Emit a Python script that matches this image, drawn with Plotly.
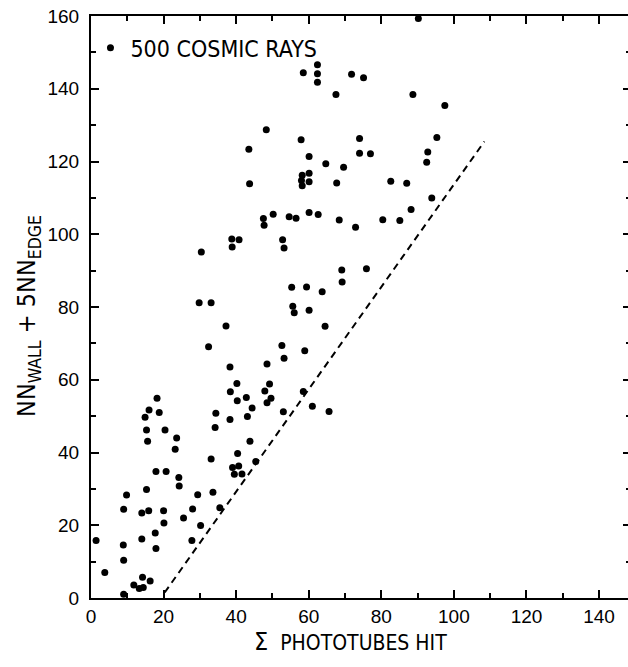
import plotly.graph_objects as go

# Scatter data: sum of phototubes hit (x) vs NN_wall + 5 NN_edge (y)
PHOTOTUBES_HIT = [
    90.2, 58.5, 62.4, 62.4, 62.4, 71.8, 75.1, 67.5, 88.7, 97.5,
    48.3, 57.9, 74.0, 95.3, 43.5, 60.1, 74.0, 77.0, 92.8, 92.5,
    64.7, 69.6, 58.2, 60.1, 58.0, 60.1, 58.2, 43.7, 67.7, 82.6,
    87.0, 93.9, 88.2, 60.1, 62.6, 50.2, 47.5, 47.7, 54.6, 56.5,
    68.4, 72.9, 80.4, 85.1, 38.8, 40.8, 38.9, 52.8, 53.2, 30.4,
    69.1, 75.9, 69.2, 55.3, 59.4, 63.7, 29.8, 33.1, 55.6, 56.0,
    60.1, 37.2, 64.5, 32.4, 52.6, 53.2, 58.9, 38.3, 48.5, 40.2,
    49.2, 38.4, 47.9, 58.5, 42.8, 40.3, 49.6, 48.5, 18.2, 44.4,
    16.0, 18.8, 14.9, 53.0, 61.0, 65.6, 34.4, 38.3, 43.1, 15.3,
    20.4, 23.6, 15.6, 34.2, 43.8, 23.2, 40.4, 33.1, 45.4, 39.0,
    40.7, 39.5, 41.6, 17.9, 20.7, 24.2, 24.3, 9.8, 15.3, 29.4,
    33.6, 9.0, 14.0, 15.9, 20.0, 28.0, 35.5, 25.5, 20.1, 30.2,
    17.7, 1.4, 14.0, 27.8, 8.9, 17.9, 9.0, 3.8, 14.2, 16.3,
    11.8, 13.3, 14.4, 9.0,
]
NN_SUM = [
    159.3, 144.4, 146.6, 144.1, 141.8, 144.0, 143.0, 138.4, 138.4, 135.4,
    128.7, 126.0, 126.3, 126.6, 123.4, 121.4, 122.3, 122.1, 122.6, 119.8,
    119.4, 118.4, 116.2, 116.8, 114.8, 114.4, 113.3, 113.9, 114.1, 114.6,
    114.0, 110.0, 106.8, 106.0, 105.4, 105.5, 104.3, 102.5, 104.8, 104.4,
    103.9, 101.9, 104.0, 103.8, 98.7, 98.5, 96.5, 98.5, 96.2, 95.1,
    90.2, 90.5, 86.9, 85.4, 85.5, 84.2, 81.2, 81.2, 80.2, 78.4,
    79.1, 74.8, 74.7, 69.1, 69.4, 65.9, 68.0, 63.5, 64.3, 59.0,
    58.8, 56.7, 56.9, 56.8, 55.1, 54.2, 54.9, 53.7, 54.9, 52.2,
    51.7, 51.0, 49.7, 51.2, 52.7, 51.3, 50.8, 49.1, 49.9, 46.2,
    46.2, 44.0, 43.1, 46.9, 43.1, 40.9, 39.7, 38.2, 37.5, 35.9,
    36.3, 34.0, 34.1, 34.8, 34.8, 33.1, 30.8, 28.3, 29.8, 28.4,
    29.1, 24.4, 23.4, 24.0, 24.0, 24.5, 24.8, 22.0, 20.6, 19.9,
    17.9, 15.8, 16.2, 15.8, 14.6, 13.6, 10.4, 7.0, 5.7, 4.7,
    3.6, 2.6, 2.9, 1.0,
]

# Dashed cut line
CUT_X = [20.3, 108.4]
CUT_Y = [1.5, 125.5]

X_TICKS = [0, 20, 40, 60, 80, 100, 120, 140]
Y_TICKS = [0, 20, 40, 60, 80, 100, 120, 140, 160]

X_TITLE = "<span style='font-size:25px'>Σ</span>  PHOTOTUBES HIT"
Y_TITLE = "NN<sub>WALL</sub> + 5NN<sub>EDGE</sub>"
SERIES_NAME = "500 COSMIC RAYS"

FAMILY = "Liberation Sans, Arial, sans-serif"
NARROW = "Liberation Sans Narrow, DejaVu Sans Condensed, Arial Narrow, sans-serif"
TICK_FONT = dict(family=FAMILY, size=19, color="black")

fig = go.Figure()
fig.add_trace(go.Scatter(
    x=PHOTOTUBES_HIT, y=NN_SUM, mode="markers",
    marker=dict(color="black", size=7, line=dict(width=0)),
    name=SERIES_NAME, cliponaxis=False, showlegend=True,
))
fig.add_trace(go.Scatter(
    x=CUT_X, y=CUT_Y, mode="lines",
    line=dict(color="black", width=2, dash="7px,5px"),
    showlegend=False, hoverinfo="skip",
))

axis_common = dict(
    showline=True, linecolor="black", linewidth=2, mirror="ticks",
    ticks="inside", ticklen=8, tickwidth=2, tickcolor="black",
    showgrid=False, zeroline=False, tickfont=TICK_FONT, automargin=False,
    minor=dict(ticks="inside", ticklen=5, tickwidth=1.5, tickcolor="black", dtick=10, showgrid=False),
)

fig.update_layout(
    width=631, height=667,
    margin=dict(l=91, r=0, t=16, b=69),
    paper_bgcolor="white", plot_bgcolor="white",
    xaxis=dict(range=[0, 148.8], tickvals=X_TICKS, ticklabelstandoff=0, **axis_common),
    yaxis=dict(range=[0, 160], tickvals=Y_TICKS, ticklabelstandoff=6, **axis_common),
    legend=dict(x=-0.001, y=0.9825, xanchor="left", yanchor="top",
                bgcolor="rgba(0,0,0,0)", itemwidth=30,
                font=dict(family=NARROW, size=23, color="black")),
    showlegend=True,
    annotations=[
        dict(text=X_TITLE, xref="paper", yref="paper", x=0.481, y=-0.074,
             xanchor="center", yanchor="middle", showarrow=False,
             font=dict(family=NARROW, size=21, color="black")),
        dict(text=Y_TITLE, xref="paper", yref="paper", x=-0.1163, y=0.485,
             xanchor="center", yanchor="middle", textangle=-90, showarrow=False,
             font=dict(family=NARROW, size=25, color="black")),
    ],
)

fig.write_html(
    "out.html",
    config={"displayModeBar": False},
    post_script="document.body.style.margin='0';document.body.style.overflow='hidden';",
)
